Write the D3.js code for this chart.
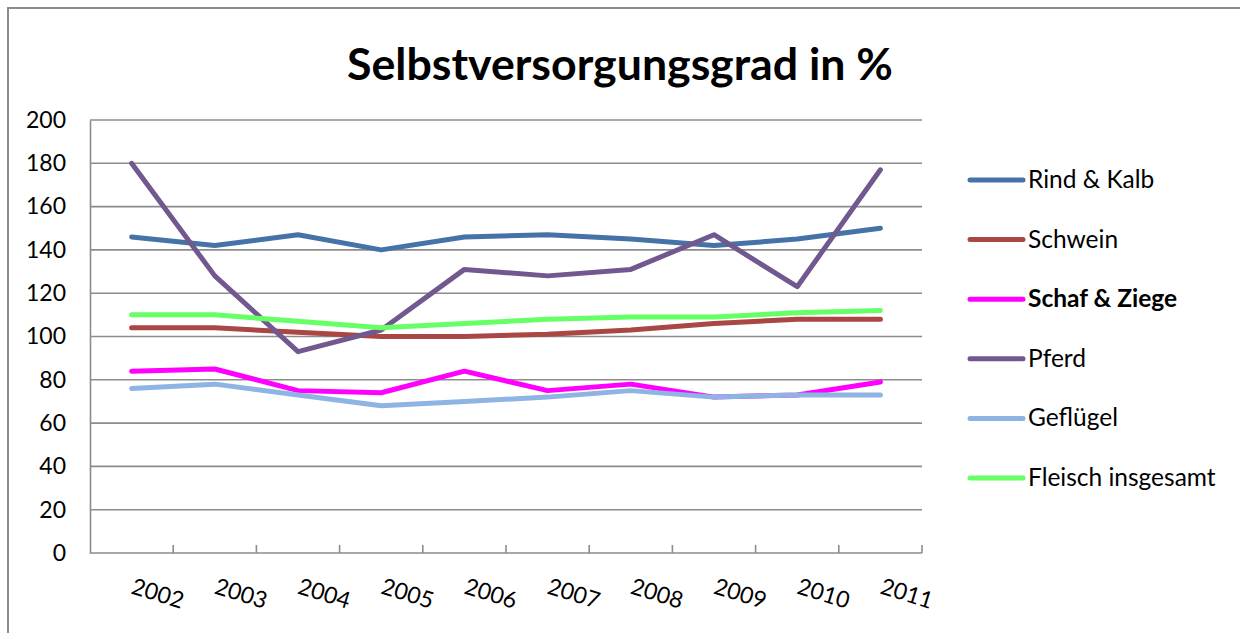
<!DOCTYPE html>
<html><head><meta charset="utf-8">
<script src="https://cdn.jsdelivr.net/npm/d3@7"></script>
<style>
html,body{margin:0;padding:0;background:#fff;}
svg{display:block;font-family:Lato,"Open Sans",sans-serif;}
</style></head>
<body>
<svg id="chart" width="1240" height="633"></svg>
<script>
const years = ["2002","2003","2004","2005","2006","2007","2008","2009","2010","2011"];
const seriesNames = ["Rind & Kalb","Schwein","Schaf & Ziege","Pferd","Geflügel","Fleisch insgesamt"];
const rindKalb   = [146,142,147,140,146,147,145,142,145,150];
const schwein    = [104,104,102,100,100,101,103,106,108,108];
const schafZiege = [84,85,75,74,84,75,78,72,73,79];
const pferd      = [180,128,93,103,131,128,131,147,123,177];
const gefluegel  = [76,78,73,68,70,72,75,72,73,73];
const fleisch    = [110,110,107,104,106,108,109,109,111,112];
const yTicks = [0,20,40,60,80,100,120,140,160,180,200];
const colors = ["#4572A7","#AA4643","#FF00FF","#71588F","#8EB4E3","#66FF66"];
const seriesValues = [rindKalb, schwein, schafZiege, pferd, gefluegel, fleisch];

const svg = d3.select("#chart");
const L = 90, R = 922, T = 120, B = 553;

// outer border
svg.append("path").attr("d","M8,633 L8,8 L1240,8")
  .attr("fill","none").attr("stroke","#8c8c8c").attr("stroke-width",2);

// title
svg.append("text").attr("x",620).attr("y",80).attr("text-anchor","middle")
  .attr("font-size",43).attr("font-weight","bold").attr("fill","#000")
  .attr("textLength",546).attr("lengthAdjust","spacingAndGlyphs")
  .text("Selbstversorgungsgrad in %");

const x = d3.scaleBand().domain(years).range([L,R]).paddingInner(0).paddingOuter(0);
const y = d3.scaleLinear().domain([0,200]).range([B,T]);

// gridlines
svg.append("g").selectAll("line").data(yTicks.filter(d=>d>0)).join("line")
  .attr("x1",L).attr("x2",R).attr("y1",d=>y(d)).attr("y2",d=>y(d))
  .attr("stroke","#8c8c8c").attr("stroke-width",1.6);

// y axis
const yAxis = svg.append("g").attr("transform",`translate(${L},0)`)
  .call(d3.axisLeft(y).tickValues(yTicks).tickSize(0).tickPadding(24));
yAxis.select(".domain").attr("stroke","#8c8c8c").attr("stroke-width",1.6);
yAxis.selectAll("text").attr("font-size",23).attr("fill","#000")
  .attr("font-family","Lato,sans-serif");

// x axis baseline and ticks (inside)
svg.append("line").attr("x1",L).attr("x2",R).attr("y1",B).attr("y2",B)
  .attr("stroke","#8c8c8c").attr("stroke-width",1.6);
const bounds = years.map(d=>x(d)+x.bandwidth());
svg.append("g").selectAll("line").data(bounds).join("line")
  .attr("x1",d=>d).attr("x2",d=>d).attr("y1",B).attr("y2",B-8)
  .attr("stroke","#8c8c8c").attr("stroke-width",1.6);

// x labels
svg.append("g").selectAll("text").data(years).join("text")
  .attr("transform",d=>`translate(${x(d)+x.bandwidth()/2+24},${B+48}) rotate(17)`)
  .attr("text-anchor","middle").attr("font-size",23).attr("fill","#000")
  .text(d=>d);

// lines
const line = d3.line().x((d,i)=>x(years[i])+x.bandwidth()/2).y(d=>y(d));
seriesValues.forEach((vals,i)=>{
  svg.append("path").datum(vals).attr("d",line)
    .attr("fill","none").attr("stroke",colors[i]).attr("stroke-width",5)
    .attr("stroke-linecap","round").attr("stroke-linejoin","round");
});

// legend
const lg = svg.append("g");
seriesNames.forEach((n,i)=>{
  const yy = 180 + i*59.6;
  lg.append("line").attr("x1",970).attr("x2",1023).attr("y1",yy).attr("y2",yy)
    .attr("stroke",colors[i]).attr("stroke-width",5).attr("stroke-linecap","round");
  lg.append("text").attr("x",1028).attr("y",yy+8).attr("font-size",24.5)
    .attr("font-weight", i===2 ? "bold" : "normal").attr("fill","#000").text(n);
});
</script>
</body></html>
